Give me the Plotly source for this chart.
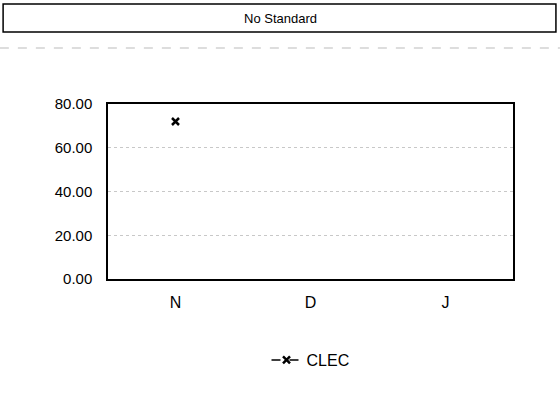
import plotly.graph_objects as go

# Chart data
categories = ["N", "D", "J"]
clec_values = [72, None, None]
y_ticks = [0, 20, 40, 60, 80]
y_tick_labels = ["0.00", "20.00", "40.00", "60.00", "80.00"]

FONT = "Liberation Sans, Arial, sans-serif"

fig = go.Figure()
fig.add_trace(go.Scatter(
    x=categories, y=clec_values, mode="lines+markers", name="CLEC",
    line=dict(color="black", width=1.5, dash="dash"),
    marker=dict(symbol="x-thin", size=7, color="black",
                line=dict(color="black", width=2.5)),
))

fig.update_layout(
    width=560, height=398,
    margin=dict(l=108, r=47, t=104, b=119),
    paper_bgcolor="white", plot_bgcolor="white",
    font=dict(family=FONT, size=15, color="black"),
    showlegend=True,
    legend=dict(orientation="h", x=0.5, xanchor="center", y=-0.463,
                yanchor="middle", font=dict(size=16)),
    xaxis=dict(showgrid=False, showline=True, linecolor="black", linewidth=1.5,
               mirror=True, ticks="", ticklabelstandoff=8, range=[-0.5, 2.5],
               tickfont=dict(size=16)),
    yaxis=dict(range=[0, 80], tickvals=y_ticks, ticktext=y_tick_labels,
               showline=True, linecolor="black", linewidth=1.5, mirror=True,
               gridcolor="#c8c8c8", griddash="dot", gridwidth=1,
               zeroline=False, ticks="", ticklabelstandoff=11),
    shapes=[
        dict(type="rect", xref="paper", yref="paper",
             x0=-0.259, x1=1.106, y0=1.411, y1=1.571,
             line=dict(color="black", width=1.5)),
        dict(type="line", xref="paper", yref="paper",
             x0=-0.267, x1=1.116, y0=1.32, y1=1.32,
             line=dict(color="#bbbbbb", width=1, dash="dash")),
    ],
    annotations=[
        dict(text="No Standard", xref="paper", yref="paper", x=0.425, y=1.491,
             showarrow=False, font=dict(size=13), xanchor="center",
             yanchor="middle"),
    ],
)

fig.write_html("out.html", config={"displayModeBar": False},
               post_script="document.body.style.margin='0';")
